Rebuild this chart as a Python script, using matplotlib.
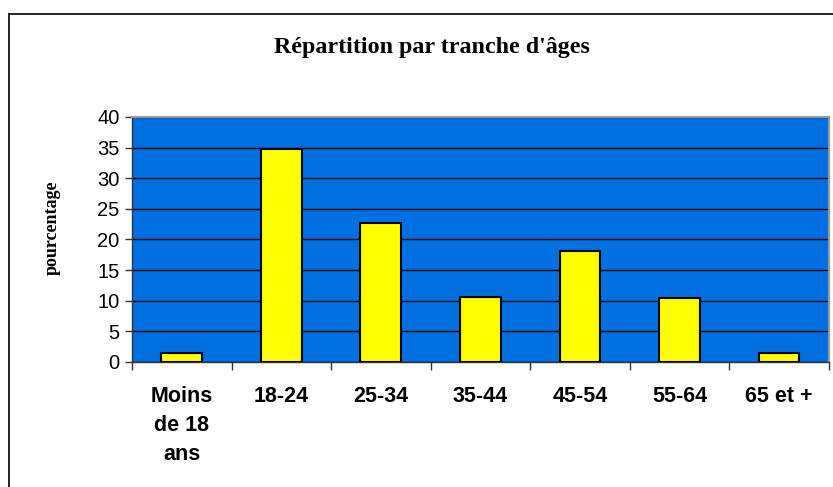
import matplotlib
matplotlib.use("Agg")
import matplotlib.pyplot as plt
from matplotlib.lines import Line2D
import numpy as np

# data
categories = ["Moins\nde 18\nans", "18-24", "25-34", "35-44", "45-54", "55-64", "65 et +"]
percentages = [1.5, 34.8, 22.7, 10.6, 18.2, 10.5, 1.5]
y_ticks = [0, 5, 10, 15, 20, 25, 30, 35, 40]

fig = plt.figure(figsize=(8.33, 4.87), dpi=100)
ax = fig.add_axes([0.1585, 0.2567, 0.8365, 0.5031])

x = np.arange(len(categories))
ax.set_facecolor("#0070E0")
ax.bar(x, percentages, width=0.41, color="#FFFF00", edgecolor="black",
       linewidth=1.5, zorder=3)

ax.set_xlim(-0.5, len(categories) - 0.5)
ax.set_ylim(0, 40)
ax.set_yticks(y_ticks)
ax.yaxis.grid(True, color="black", linewidth=1.0, zorder=1)
ax.set_axisbelow(True)

# ticks at category boundaries, labels centred on bars
ax.set_xticks(np.arange(len(categories) + 1) - 0.5)
ax.set_xticklabels([])
ax.set_xticks(x, minor=True)
ax.set_xticklabels(categories, minor=True, fontfamily="Liberation Sans",
                   fontweight="bold", fontsize=15.5, linespacing=1.52)
ax.tick_params(axis="x", which="minor", length=0, pad=17)
ax.tick_params(axis="x", which="major", length=6, width=1, color="#333333")
ax.tick_params(axis="y", length=5, width=1, color="#333333", pad=4)
for lbl in ax.get_yticklabels():
    lbl.set_fontfamily("Liberation Sans")
    lbl.set_fontsize(14.5)

for side in ["top", "right"]:
    ax.spines[side].set_color("#999999")
    ax.spines[side].set_linewidth(1.5)
for side in ["left", "bottom"]:
    ax.spines[side].set_color("#333333")
    ax.spines[side].set_linewidth(1.0)

fig.text(0.519, 0.902, "Répartition par tranche d'âges", ha="center", va="center",
         fontfamily="Liberation Serif", fontweight="bold", fontsize=17.3)
fig.text(0.063, 0.532, "pourcentage", ha="center", va="center", rotation=90,
         fontfamily="Liberation Serif", fontweight="bold", fontsize=13)

# chart frame (runs past the right and bottom edge)
fig.add_artist(Line2D([0.0108, 0.0108], [0.971, -0.1], color="black", linewidth=1.2))
fig.add_artist(Line2D([0.0108, 1.1], [0.971, 0.971], color="black", linewidth=1.2))

fig.savefig("out.png", dpi=100)
